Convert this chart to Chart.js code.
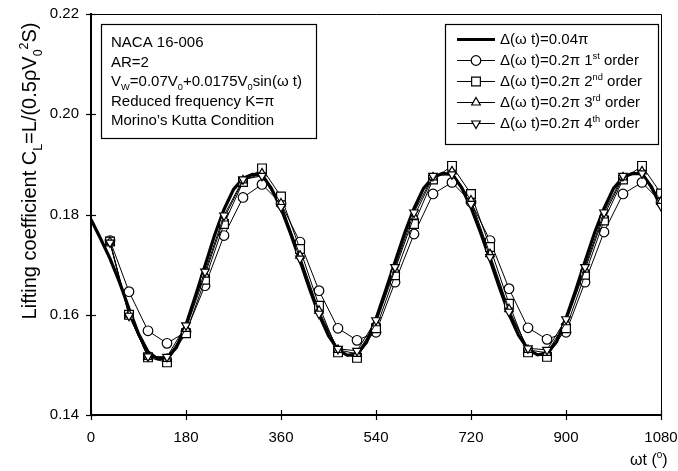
<!DOCTYPE html>
<html>
<head>
<meta charset="utf-8">
<script src="https://cdn.jsdelivr.net/npm/chart.js@4.4.1/dist/chart.umd.min.js"></script>
<style>
html,body{margin:0;padding:0;background:#fff}
#wrap{width:678px;height:471px}
</style>
</head>
<body>
<div id="wrap"><canvas id="c" width="678" height="471"></canvas></div>
<script>
// ===== DATA =====
const X_TICKS=[0,180,360,540,720,900,1080];
const Y_TICKS=[0.14,0.16,0.18,0.20,0.22];

// fine step solution, delta(wt)=0.04pi, read every 18 deg
const ANG_FINE=[0,18,36,54,72,90,108,126,144,162,180,198,216,234,252,270,288,306,324,342,360,
  378,396,414,432,450,468,486,504,522,540,558,576,594,612,630,648,666,684,702,720,
  738,756,774,792,810,828,846,864,882,900,918,936,954,972,990,1008,1026,1044,1062,1080];
const CL_FINE=[0.1790,0.1752,0.1712,0.1665,0.1612,0.1562,0.1526,0.1512,0.1514,0.1535,0.1580,0.1638,0.1698,0.1758,0.1810,0.1850,0.1872,0.1880,0.1879,0.1852,0.1812,
  0.1762,0.1708,0.1652,0.1600,0.1558,0.1530,0.1519,0.1522,0.1545,0.1592,0.1648,0.1705,0.1762,0.1812,0.1852,0.1874,0.1882,0.1880,0.1854,0.1814,
  0.1764,0.1710,0.1654,0.1601,0.1559,0.1531,0.1520,0.1523,0.1546,0.1593,0.1648,0.1706,0.1763,0.1812,0.1852,0.1874,0.1882,0.1881,0.1855,0.1815];

// delta(wt)=0.2pi markers
const ANG_MARK=[36,72,108,144,180,216,252,288,324,360,396,432,468,504,540,576,612,648,684,720,756,792,828,864,900,936,972,1008,1044,1080];
const CL_ORD1=[0.1748,0.1646,0.1568,0.1543,0.1566,0.1658,0.1758,0.1834,0.1860,0.1822,0.1745,0.1648,0.1573,0.1549,0.1565,0.1665,0.1761,0.1841,0.1864,0.1825,0.1748,0.1652,0.1574,0.1551,0.1565,0.1665,0.1765,0.1841,0.1864,0.1825];
const CL_ORD2=[0.1746,0.1600,0.1515,0.1505,0.1563,0.1670,0.1781,0.1865,0.1892,0.1836,0.1731,0.1618,0.1525,0.1514,0.1573,0.1679,0.1781,0.1870,0.1897,0.1841,0.1735,0.1622,0.1525,0.1516,0.1573,0.1680,0.1788,0.1870,0.1897,0.1842];
const CL_ORD3=[0.1745,0.1600,0.1516,0.1512,0.1572,0.1680,0.1792,0.1868,0.1882,0.1822,0.1718,0.1608,0.1530,0.1522,0.1583,0.1690,0.1796,0.1874,0.1886,0.1828,0.1721,0.1611,0.1530,0.1524,0.1585,0.1690,0.1798,0.1874,0.1886,0.1826];
const CL_ORD4=[0.1744,0.1598,0.1517,0.1516,0.1579,0.1686,0.1798,0.1870,0.1877,0.1815,0.1712,0.1602,0.1532,0.1528,0.1589,0.1695,0.1804,0.1877,0.1880,0.1821,0.1715,0.1606,0.1533,0.1530,0.1591,0.1695,0.1804,0.1877,0.1882,0.1817];

const FONT='"Liberation Sans", Arial, Helvetica, sans-serif';

function pts(xs,ys){return xs.map((x,i)=>({x:x,y:ys[i]}));}

// text with sub/superscripts: parts = [[text, 'n'|'sub'|'sup'], ...]
function richWidth(ctx,parts,size){
  let w=0;
  parts.forEach(p=>{const s=p[1]==='n'?size:size*0.62;ctx.font=s+'px '+FONT;w+=ctx.measureText(p[0]).width;});
  return w;
}
function drawRich(ctx,parts,x,y,size){
  let cx=x;
  parts.forEach(p=>{
    const s=p[1]==='n'?size:size*0.62;
    const dy=p[1]==='sub'?size*0.28:(p[1]==='sup'?-size*0.42:0);
    ctx.font=s+'px '+FONT;
    ctx.fillText(p[0],cx,y+dy);
    cx+=ctx.measureText(p[0]).width;
  });
  return cx;
}

const mkStyle={pointBackgroundColor:'#fff',pointBorderColor:'#000',pointBorderWidth:1.2,borderColor:'#000',borderWidth:1,showLine:true,tension:0};
const datasets=[
  {label:'fine',data:pts(ANG_FINE,CL_FINE),showLine:true,borderColor:'#000',borderWidth:3.2,pointRadius:0,order:5,tension:0},
  {label:'o1',data:pts(ANG_MARK,CL_ORD1),...mkStyle,pointStyle:'circle',pointRadius:4.8,order:4},
  {label:'o2',data:pts(ANG_MARK,CL_ORD2),...mkStyle,pointStyle:'rect',pointRadius:6.2,order:3},
  {label:'o3',data:pts(ANG_MARK,CL_ORD3),...mkStyle,pointStyle:'triangle',pointRadius:5,order:2},
  {label:'o4',data:pts(ANG_MARK,CL_ORD4),...mkStyle,pointStyle:'triangle',pointRotation:180,pointRadius:5,order:1}
];

// frame, crossing ticks, text boxes, titles
const decor={
  id:'decor',
  afterDraw(chart){
    const ctx=chart.ctx,a=chart.chartArea,xs=chart.scales.x,ys=chart.scales.y;
    ctx.save();
    ctx.strokeStyle='#000';ctx.fillStyle='#000';
    // top & right frame
    ctx.lineWidth=1;
    ctx.beginPath();ctx.moveTo(a.left,a.top+0.5);ctx.lineTo(a.right+0.5,a.top+0.5);ctx.lineTo(a.right+0.5,a.bottom);ctx.stroke();
    // ticks crossing the axes
    ctx.lineWidth=1.2;
    X_TICKS.forEach(v=>{const px=Math.round(xs.getPixelForValue(v))+0.5;ctx.beginPath();ctx.moveTo(px,a.bottom-5);ctx.lineTo(px,a.bottom+5);ctx.stroke();});
    Y_TICKS.forEach(v=>{const py=Math.round(ys.getPixelForValue(v))+0.5;ctx.beginPath();ctx.moveTo(a.left-5,py);ctx.lineTo(a.left+5,py);ctx.stroke();});

    ctx.textBaseline='alphabetic';ctx.textAlign='left';
    // info box
    ctx.lineWidth=1.2;
    ctx.strokeRect(101.5,24.5,215,114);
    const info=[
      [['NACA 16-006','n']],
      [['AR=2','n']],
      [['V','n'],['W','sub'],['=0.07V','n'],['0','sub'],['+0.0175V','n'],['0','sub'],['sin(\u03c9 t)','n']],
      [['Reduced frequency K=\u03c0','n']],
      [['Morino\u2019s Kutta Condition','n']]
    ];
    info.forEach((p,i)=>drawRich(ctx,p,111,47+i*19.5,15));

    // legend box
    ctx.strokeRect(445.5,24.5,213,120);
    const leg=[
      [['\u0394(\u03c9 t)=0.04\u03c0','n']],
      [['\u0394(\u03c9 t)=0.2\u03c0 1','n'],['st','sup'],[' order','n']],
      [['\u0394(\u03c9 t)=0.2\u03c0 2','n'],['nd','sup'],[' order','n']],
      [['\u0394(\u03c9 t)=0.2\u03c0 3','n'],['rd','sup'],[' order','n']],
      [['\u0394(\u03c9 t)=0.2\u03c0 4','n'],['th','sup'],[' order','n']]
    ];
    leg.forEach((p,i)=>{
      const cy=39+i*21;
      const ds=chart.data.datasets[i];
      ctx.lineWidth=ds.borderWidth;
      ctx.beginPath();ctx.moveTo(457,cy+0.5);ctx.lineTo(495,cy+0.5);ctx.stroke();
      if(ds.pointRadius>0){
        ctx.fillStyle='#fff';ctx.strokeStyle='#000';ctx.lineWidth=1.2;
        Chart.helpers.drawPoint(ctx,{pointStyle:ds.pointStyle,rotation:ds.pointRotation||0,radius:ds.pointRadius,borderWidth:1.2},476,cy+0.5);
        ctx.fillStyle='#000';
      }
      drawRich(ctx,p,500,cy+5,15);
    });

    // y title, rotated
    const yt=[['Lifting coefficient C','n'],['L','sub'],['=L/(0.5\u03c1V','n'],['0','sub'],['2','sup'],['S)','n']];
    const ysz=20;
    const w=richWidth(ctx,yt,ysz);
    ctx.save();
    ctx.translate(36,171);ctx.rotate(-Math.PI/2);
    drawRich(ctx,yt,-w/2,0,ysz);
    ctx.restore();

    // x title
    const xt=[['\u03c9t (','n'],['0','sup'],[')','n']];
    drawRich(ctx,xt,630,465,16);
    ctx.restore();
  }
};

new Chart(document.getElementById('c'),{
  type:'scatter',
  data:{datasets},
  options:{
    responsive:false,animation:false,devicePixelRatio:1,
    layout:{padding:{left:0,top:14,right:17,bottom:0}},
    plugins:{legend:{display:false},tooltip:{enabled:false}},
    scales:{
      x:{type:'linear',min:0,max:1080,
        afterBuildTicks:s=>{s.ticks=X_TICKS.map(v=>({value:v}));},
        afterFit:s=>{s.height=56;s.paddingLeft=0;s.paddingRight=0;},
        grid:{display:false,drawTicks:false},
        border:{color:'#000',width:2},
        ticks:{color:'#000',padding:14,maxRotation:0,autoSkip:false,font:{family:FONT,size:15},callback:v=>String(v)}},
      y:{type:'linear',min:0.14,max:0.22,
        afterBuildTicks:s=>{s.ticks=Y_TICKS.map(v=>({value:v}));},
        afterFit:s=>{s.width=91;s.paddingTop=0;s.paddingBottom=0;},
        grid:{display:false,drawTicks:false},
        border:{color:'#000',width:2},
        ticks:{color:'#000',padding:12,autoSkip:false,font:{family:FONT,size:15},callback:v=>v.toFixed(2)}}
    }
  },
  plugins:[decor]
});
</script>
</body>
</html>
